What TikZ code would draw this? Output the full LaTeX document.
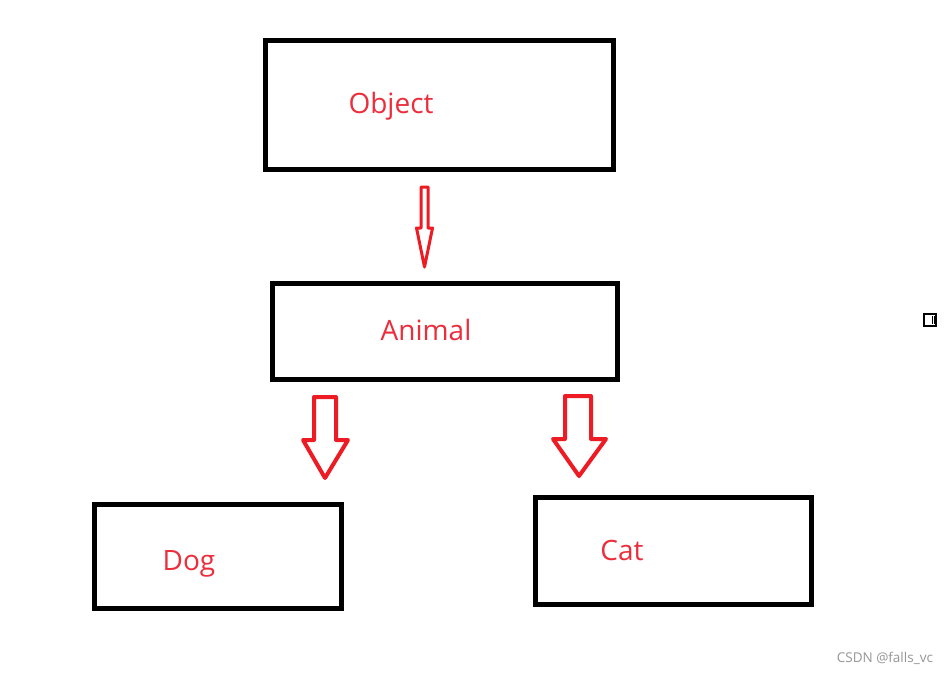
\documentclass[tikz,border=0pt]{standalone}
\usepackage{fontspec}
\setmainfont{Open Sans}
\usetikzlibrary{positioning}
\definecolor{arrred}{RGB}{237,28,36}
\definecolor{txtred}{RGB}{236,45,60}
\definecolor{wmgray}{RGB}{150,150,150}

\begin{document}
\begin{tikzpicture}[x=1pt,y=-1pt,
  every node/.style={inner sep=0pt,outer sep=0pt},
  classbox/.style={draw=black,line width=5pt},
  classlbl/.style={anchor=base,text=txtred,font=\fontsize{28}{32}\selectfont},
  blockarr/.style={draw=arrred,line width=4pt,fill=white,line join=round}]
\useasboundingbox[fill=white] (0,0) rectangle (949,673);
% class boxes
\node[classbox,minimum width=348pt,minimum height=129pt] (obj) at (439.5,105) {};
\node[classbox,minimum width=345pt,minimum height=96pt] (ani) at (445,331.5) {};
\node[classbox,minimum width=247pt,minimum height=104pt] (dog) at (218,556.5) {};
\node[classbox,minimum width=276pt,minimum height=107pt] (cat) at (673.5,551) {};
\node[classlbl] (objlbl) at (391,113) {Object};
\node[classlbl] (anilbl) at (426,340) {Animal};
\node[classlbl] (doglbl) at (189,570) {Dog};
\node[classlbl] (catlbl) at (622,560) {Cat};
% hollow arrows
\coordinate (a1tip) at (424.5,267);
\draw[blockarr,line width=3pt] (421,187)--(428,187)--(428,228)--(432.5,228)--(a1tip)--(416.5,228)--(421,228)--cycle;
\coordinate (a2tip) at (325,478);
\draw[blockarr] (314,397)--(336,397)--(336,440)--(348,440)--(a2tip)--(303,440)--(314,440)--cycle;
\coordinate (a3tip) at (579,476);
\draw[blockarr] (565,396)--(591,396)--(591,439)--(606,439)--(a3tip)--(553,439)--(565,439)--cycle;
% small icon
\node[draw=black,line width=2pt,minimum width=12pt,minimum height=12pt] (icon) at (930,320) {};
\fill (931.5,316) rectangle (933,324);
\fill (934,316) rectangle (935,324);
% watermark
\node[anchor=base east,text=wmgray,font=\fontsize{13.5}{16}\selectfont] (wmark) at (933,662) {CSDN @falls\_vc};
\end{tikzpicture}
\end{document}
